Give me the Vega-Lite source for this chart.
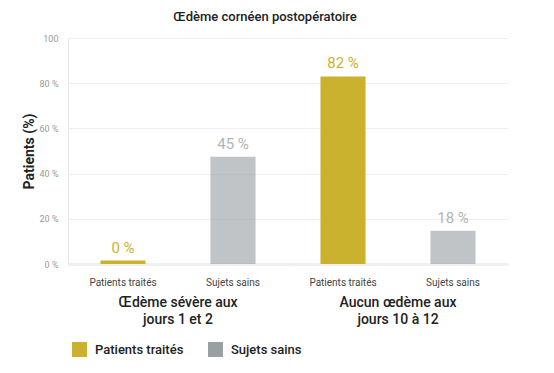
{
  "$schema": "https://vega.github.io/schema/vega-lite/v6.json",
  "padding": {"left": 22, "top": 11, "right": 46, "bottom": 10},
  "title": {"text": "Œdème cornéen postopératoire", "font": "Roboto", "fontSize": 13, "fontWeight": 500, "color": "#222222", "anchor": "middle", "frame": "bounds", "offset": 10},
  "data": {"values": [
    {"groupe": "Œdème sévère aux|jours 1 et 2", "serie": "Patients traités", "valeur": 1.5, "etiquette": "0 %"},
    {"groupe": "Œdème sévère aux|jours 1 et 2", "serie": "Sujets sains", "valeur": 47.5, "etiquette": "45 %"},
    {"groupe": "Aucun œdème aux|jours 10 à 12", "serie": "Patients traités", "valeur": 83, "etiquette": "82 %"},
    {"groupe": "Aucun œdème aux|jours 10 à 12", "serie": "Sujets sains", "valeur": 14.7, "etiquette": "18 %"}
  ]},
  "facet": {
    "column": {
      "field": "groupe", "type": "nominal",
      "sort": ["Œdème sévère aux|jours 1 et 2", "Aucun œdème aux|jours 10 à 12"],
      "title": null,
      "header": {"labelOrient": "bottom", "labelExpr": "split(datum.label, '|')", "labelFont": "Roboto", "labelFontSize": 14, "labelFontWeight": 500, "labelColor": "#222222", "labelPadding": 9, "labelLineHeight": 17}
    }
  },
  "spacing": 0,
  "spec": {
    "width": 220,
    "height": 226,
    "encoding": {
      "x": {"field": "serie", "type": "nominal", "sort": ["Patients traités", "Sujets sains"],
        "scale": {"paddingInner": 0.59, "paddingOuter": 0.295},
        "axis": {"title": null, "labelAngle": 0, "ticks": false, "labelFont": "Roboto", "labelFontSize": 10, "labelColor": "#444444", "labelPadding": 13, "domainColor": "#e2e2e2", "domainWidth": 2}},
      "y": {"field": "valeur", "type": "quantitative", "scale": {"domain": [0, 100]},
        "axis": {"title": "Patients (%)", "values": [0, 20, 40, 60, 80, 100], "labelExpr": "datum.value == 100 ? '100' : datum.value + ' %'", "labelFont": "Roboto", "labelFontSize": 9, "labelColor": "#9a9a9a", "labelPadding": 10, "ticks": false, "gridColor": "#efefef", "domainColor": "#e6e6e6", "titleFont": "Roboto", "titleFontSize": 14, "titleFontWeight": "bold", "titleColor": "#222222", "titlePadding": 3}},
      "color": {"field": "serie", "type": "nominal",
        "scale": {"domain": ["Patients traités", "Sujets sains"], "range": ["#cbb22e", "#9a9fa3"]},
        "legend": {"title": null, "orient": "bottom", "direction": "horizontal", "symbolType": "square", "symbolSize": 225, "symbolStrokeWidth": 0, "symbolOpacity": 1, "labelFont": "Roboto", "labelFontSize": 13, "labelFontWeight": 500, "labelColor": "#222222", "labelOffset": 8, "columnPadding": 24, "padding": 4, "offset": 11}}
    },
    "layer": [
      {"mark": {"type": "bar"},
       "encoding": {"opacity": {"condition": {"test": "datum.serie === 'Sujets sains'", "value": 0.62}, "value": 1}}},
      {"mark": {"type": "text", "baseline": "bottom", "dy": -5, "font": "Roboto", "fontSize": 15, "fontWeight": "normal"},
       "encoding": {"text": {"field": "etiquette"}, "opacity": {"condition": {"test": "datum.serie === 'Sujets sains'", "value": 0.78}, "value": 1}}}
    ]
  },
  "config": {"view": {"stroke": null}, "font": "Roboto"}
}
